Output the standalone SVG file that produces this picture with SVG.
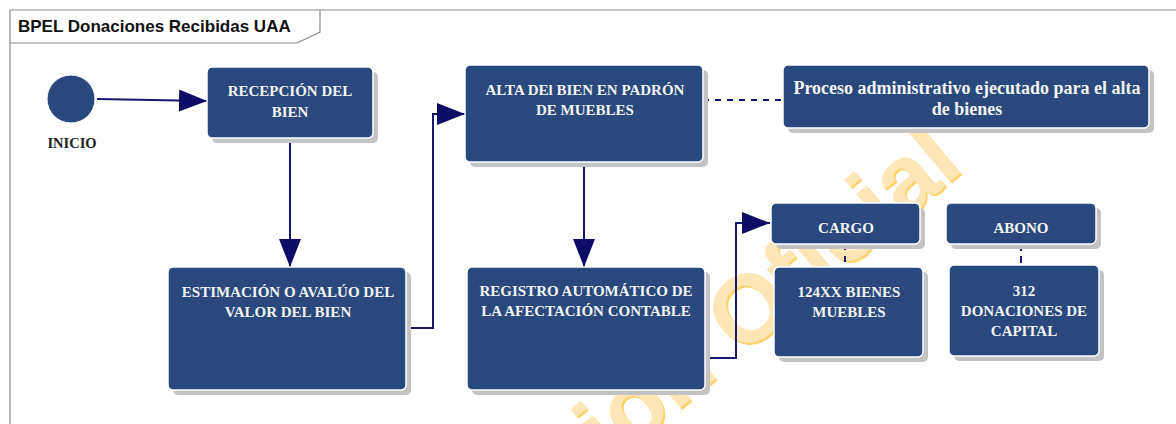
<svg xmlns="http://www.w3.org/2000/svg" width="1176" height="424" viewBox="0 0 1176 424">
<style>
.frame{fill:none;stroke:#8c8c8c;stroke-width:1.2}
.title{font-family:"Liberation Sans",Arial,sans-serif;font-weight:bold;font-size:17px;fill:#111}
.shadow{fill:#c3c3c3}
.box{fill:#29487d;stroke:#ffffff;stroke-width:1.5}
.lbl{font-family:"Liberation Serif","Times New Roman",serif;font-weight:bold;font-size:15px;fill:#f4f4f4;text-anchor:middle}
.lbl2{font-family:"Liberation Serif","Times New Roman",serif;font-weight:bold;font-size:18px;fill:#f4f4f4;text-anchor:middle}
.cap{font-family:"Liberation Serif","Times New Roman",serif;font-weight:bold;font-size:14.5px;fill:#222;text-anchor:middle}
.edge{fill:none;stroke:#17176e;stroke-width:2}
.dash{fill:none;stroke:#17176e;stroke-width:2;stroke-dasharray:6 6}
.wm{font-family:"Liberation Sans",Arial,sans-serif;font-weight:bold;font-size:96px}
</style>
<defs>
<marker id="arr" markerUnits="userSpaceOnUse" markerWidth="30" markerHeight="24" refX="28" refY="11" orient="auto">
<path d="M0,0 L28,11 L0,22 Z" fill="#0d0d66"/>
</marker>
<clipPath id="altaClip"><rect x="465" y="65" width="223" height="97"/></clipPath>
</defs>
<rect width="1176" height="424" fill="#ffffff"/>
<g id="watermark">
<text class="wm" transform="translate(612,469) rotate(-40)" fill="#ffd36e">ión Oficial</text>
<text class="wm" transform="translate(610,467) rotate(-40)" fill="#ffe6b6">ión Oficial</text>
</g>
<g id="frame">
<path class="frame" d="M10,424 L10,10 L1176,10"/>
<path class="frame" d="M10,43 L297,43 L320,32 L320,10"/>
<text class="title" x="18" y="32">BPEL Donaciones Recibidas UAA</text>
</g>
<g id="connectors">
<path class="edge" d="M97,99 L207,101" marker-end="url(#arr)"/>
<path class="edge" d="M290,138 L290,267" marker-end="url(#arr)"/>
<path class="edge" d="M406,328 L433,328 L433,114 L465,114" marker-end="url(#arr)"/>
<path class="dash" d="M703,100 L783,100"/>
<path class="edge" d="M584,162 L584,267" marker-end="url(#arr)"/>
<path class="edge" d="M705,358 L736,358 L736,223 L770,223" marker-end="url(#arr)"/>
<path class="dash" d="M845,244 L845,267"/>
<path class="dash" d="M1021,244 L1021,265" style="stroke-dasharray:7 5"/>
</g>
<g id="inicio">
<circle cx="71" cy="99" r="24" fill="#29487d" stroke="#ffffff" stroke-width="1"/>
<text class="cap" x="72" y="148">INICIO</text>
</g>
<g id="recepcion">
<rect class="shadow" x="212" y="72" width="166" height="71" rx="5"/>
<rect class="box" x="207" y="67" width="166" height="71" rx="5"/>
<text class="lbl" x="290" y="96">RECEPCIÓN DEL</text>
<text class="lbl" x="290" y="117">BIEN</text>
</g>
<g id="estimacion">
<rect class="shadow" x="173" y="272" width="238" height="123" rx="5"/>
<rect class="box" x="168" y="267" width="238" height="123" rx="5"/>
<text class="lbl" x="288" y="297">ESTIMACIÓN O AVALÚO DEL</text>
<text class="lbl" x="288" y="317">VALOR DEL BIEN</text>
</g>
<g id="alta">
<rect class="shadow" x="470" y="70" width="238" height="97" rx="5"/>
<rect class="box" x="465" y="65" width="238" height="97" rx="5"/>
<g clip-path="url(#altaClip)">
<text class="lbl" x="585" y="95">ALTA DEl BIEN EN PADRÓN</text>
</g>
<text class="lbl" x="585" y="115">DE MUEBLES</text>
</g>
<g id="proceso">
<rect class="shadow" x="788" y="70" width="366" height="63" rx="5"/>
<rect class="box" x="783" y="65" width="366" height="63" rx="5"/>
<text class="lbl2" x="967" y="94">Proceso administrativo ejecutado para el alta</text>
<text class="lbl2" x="967" y="115">de bienes</text>
</g>
<g id="registro">
<rect class="shadow" x="472" y="272" width="238" height="123" rx="5"/>
<rect class="box" x="467" y="267" width="238" height="123" rx="5"/>
<text class="lbl" x="586" y="296">REGISTRO AUTOMÁTICO DE</text>
<text class="lbl" x="586" y="316">LA AFECTACIÓN CONTABLE</text>
</g>
<g id="cargo">
<rect class="shadow" x="776" y="208" width="149" height="41" rx="5"/>
<rect class="box" x="771" y="203" width="149" height="41" rx="5"/>
<text class="lbl" x="846" y="233">CARGO</text>
</g>
<g id="bienes124">
<rect class="shadow" x="779" y="272" width="149" height="90" rx="5"/>
<rect class="box" x="774" y="267" width="149" height="90" rx="5"/>
<text class="lbl" x="849" y="297">124XX BIENES</text>
<text class="lbl" x="849" y="317">MUEBLES</text>
</g>
<g id="abono">
<rect class="shadow" x="951" y="208" width="150" height="41" rx="5"/>
<rect class="box" x="946" y="203" width="150" height="41" rx="5"/>
<text class="lbl" x="1021" y="233">ABONO</text>
</g>
<g id="donaciones312">
<rect class="shadow" x="954" y="270" width="150" height="91" rx="5"/>
<rect class="box" x="949" y="265" width="150" height="91" rx="5"/>
<text class="lbl" x="1024" y="296">312</text>
<text class="lbl" x="1024" y="316">DONACIONES DE</text>
<text class="lbl" x="1024" y="336">CAPITAL</text>
</g>
</svg>
